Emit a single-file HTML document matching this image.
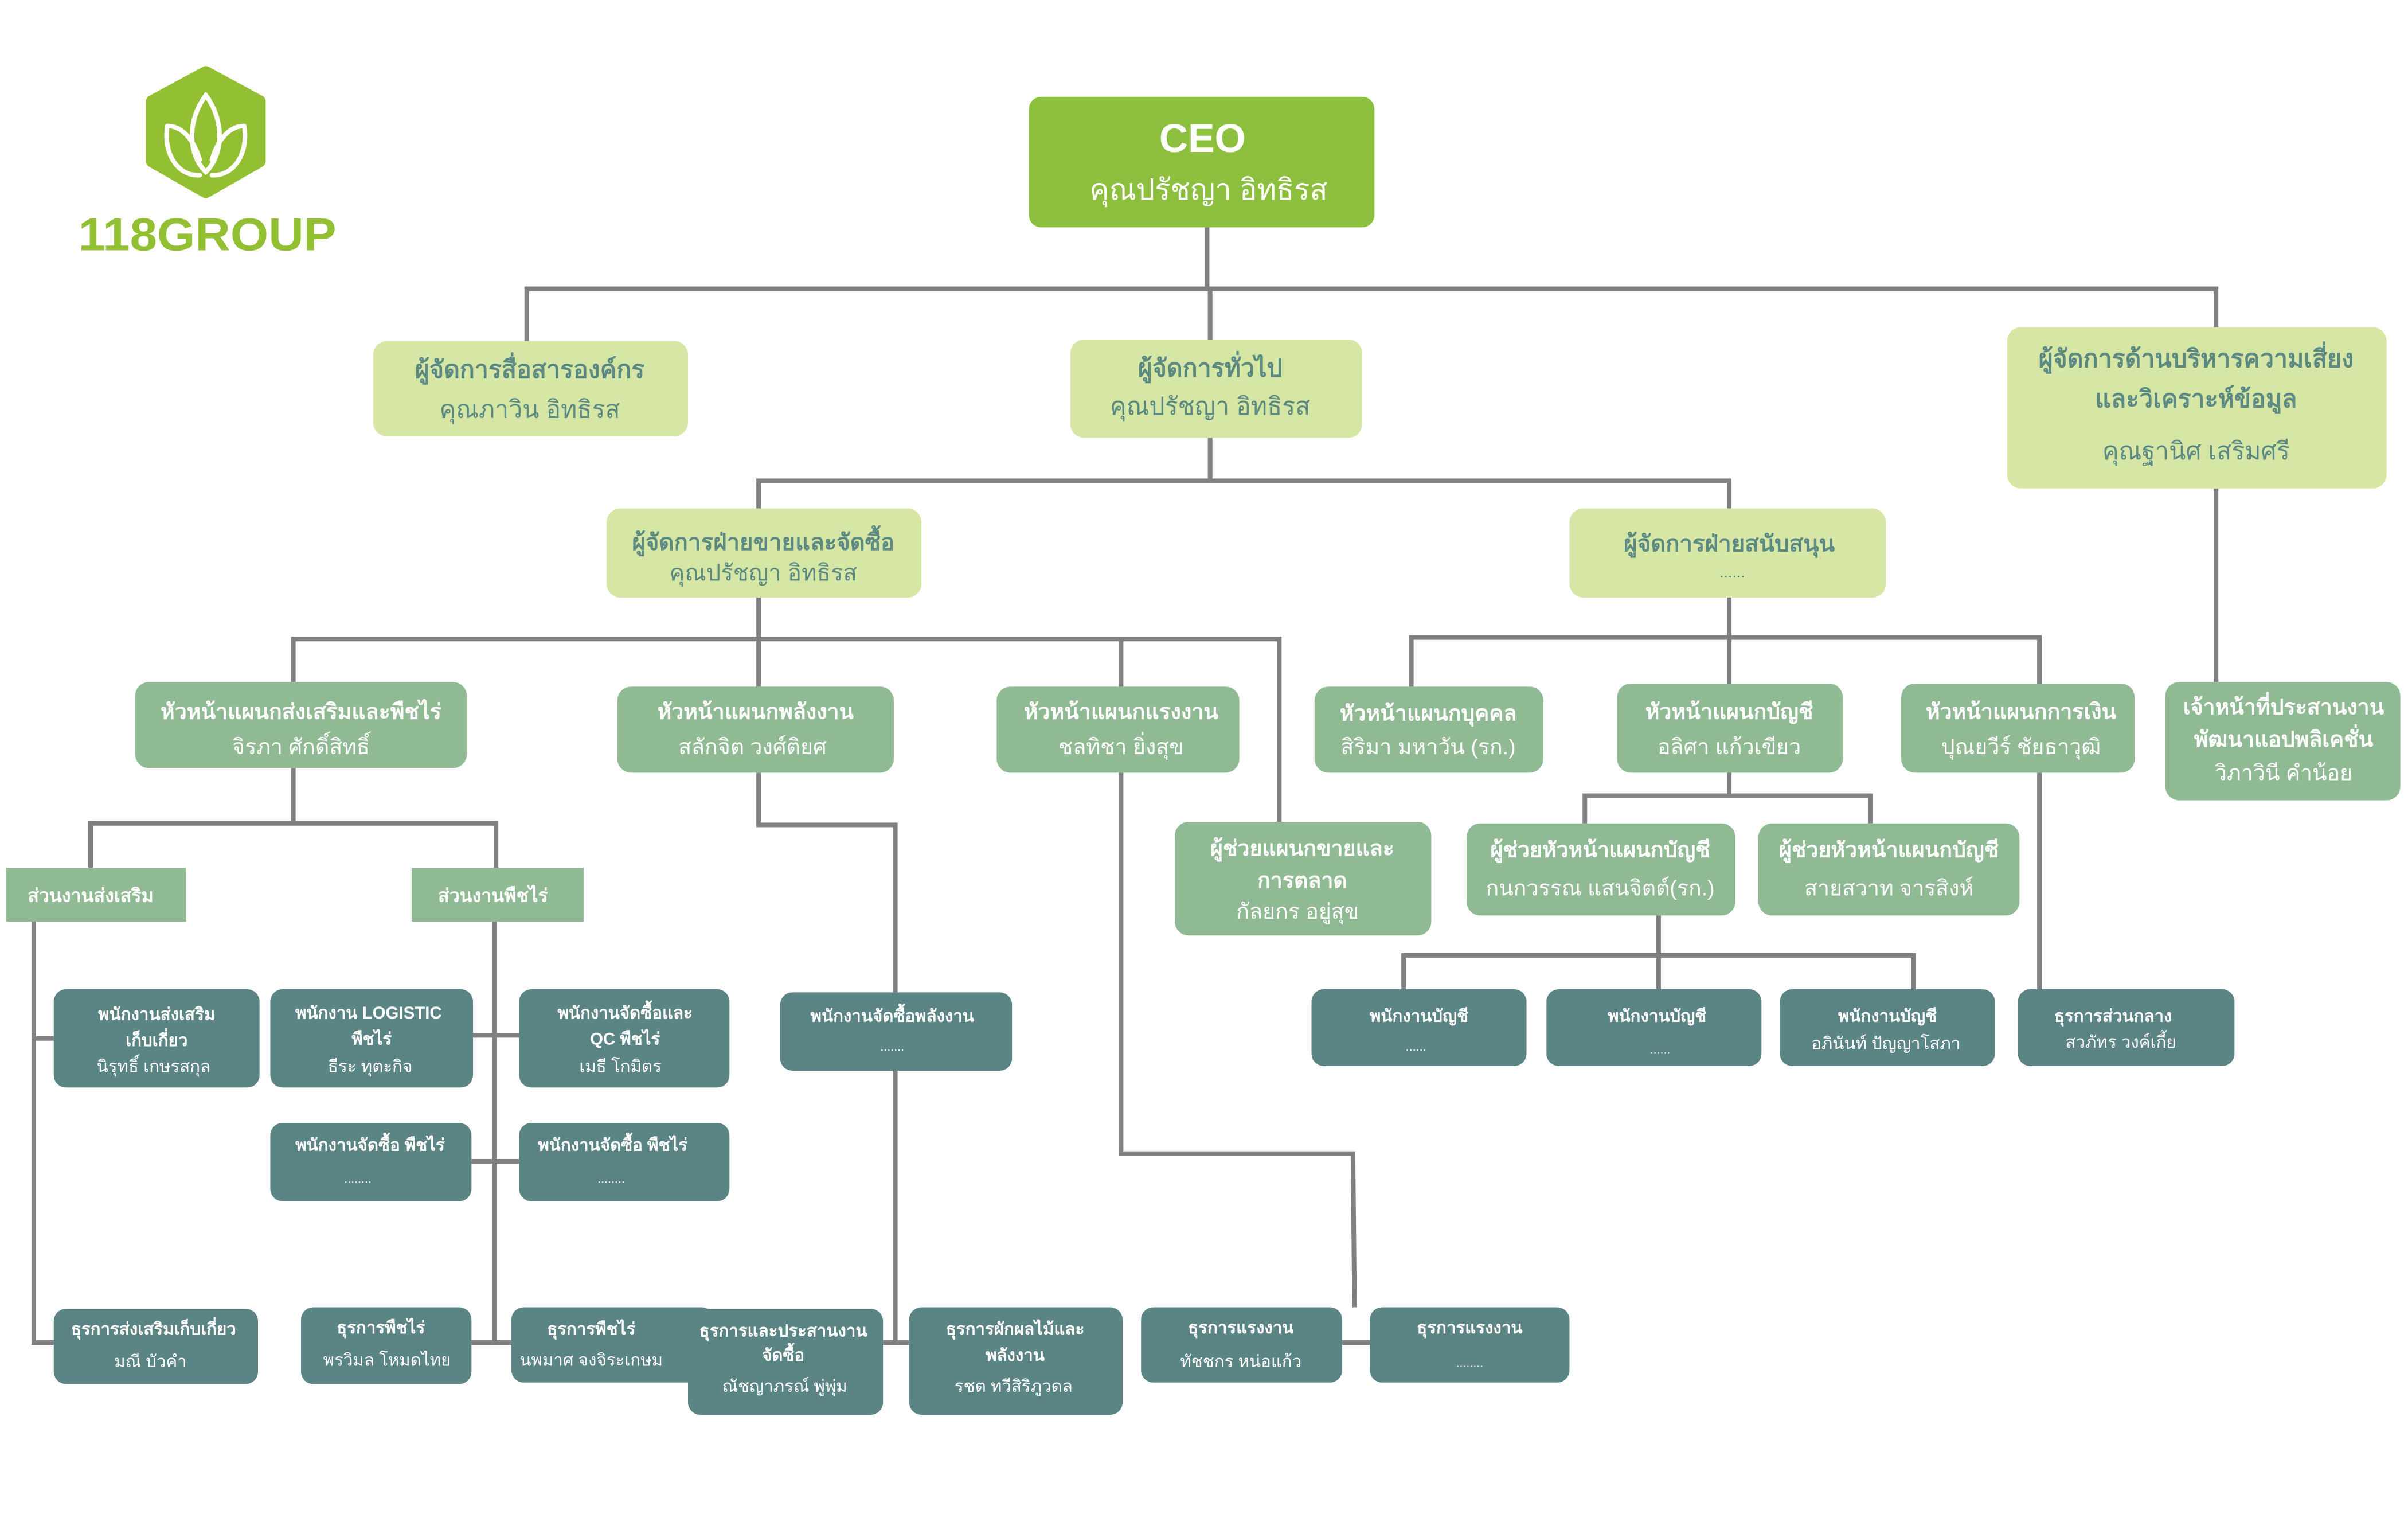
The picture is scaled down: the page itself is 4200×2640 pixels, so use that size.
<!DOCTYPE html>
<html><head><meta charset="utf-8"><style>
html,body{margin:0;padding:0;background:#fff;}
svg{display:block;}
text{font-family:"Liberation Sans","DejaVu Sans","Noto Sans CJK SC",sans-serif;text-anchor:middle;}
.b{font-weight:bold;}
</style></head><body>
<svg width="4200" height="2640" viewBox="0 0 1568 985.6" xmlns="http://www.w3.org/2000/svg">
<rect width="1568" height="986" fill="#fff"/>
<g stroke="#808083" stroke-width="3" fill="none">
<path d="M786 148V188M343 222V188H1443V213M788 188V221"/>
<path d="M1443 318V444"/>
<path d="M788 285V313M494 331V313H1126V331"/>
<path d="M494 389V416M191 444V416H833V535M494 416V447M730 416V447"/>
<path d="M1126 389V415M919 447V415H1328V445M1126 415V445"/>
<path d="M1328 503V645"/>
<path d="M191 500V536M59 565V536H323V565"/>
<path d="M22 600V874H35M22 676H35"/>
<path d="M322 600V874M308 674H338M307 756H338M307 874H333"/>
<path d="M494 503V537H583V646M583 697V874M575 874H592"/>
<path d="M730 503V751H881L882 851M874 874H892"/>
<path d="M1126 503V518M1032 536V518H1218V536"/>
<path d="M1080 596V622M914 644V622H1246V644M1080 622V644"/>
</g>
<!-- logo -->
<path d="M134 47L169 66V105L134 125L99 105V66Z" fill="#93c032" stroke="#93c032" stroke-width="8" stroke-linejoin="round"/>
<g stroke="#fff" stroke-width="3" fill="none" stroke-linecap="round">
<path d="M134 62C122 78 122 100 134 112C146 100 146 78 134 62Z"/>
<path d="M109 82C106 100 116 115 130 114M159 82C162 100 152 115 138 114"/>
<path d="M109 82C118 82 126 90 130 104M159 82C150 82 142 90 138 104"/>
</g>
<text x="135" y="163" font-size="30" class="b" fill="#93c032" textLength="168" lengthAdjust="spacingAndGlyphs">118GROUP</text>

<!-- CEO -->
<rect x="670" y="63" width="225" height="85" rx="8" fill="#8dbf3e"/>
<text x="783" y="99" font-size="26" class="b" fill="#fff">CEO</text>
<text x="787" y="130" font-size="19" fill="#fff">คุณปรัชญา อิทธิรส</text>

<g fill="#d6e6a4">
<rect x="243" y="222" width="205" height="62" rx="9"/>
<rect x="697" y="221" width="190" height="64" rx="9"/>
<rect x="1307" y="213" width="247" height="105" rx="9"/>
<rect x="395" y="331" width="205" height="58" rx="9"/>
<rect x="1022" y="331" width="206" height="58" rx="9"/>
</g>
<g fill="#5c8a82">
<text x="345" y="246" font-size="16" class="b">ผู้จัดการสื่อสารองค์กร</text>
<text x="345" y="272" font-size="16">คุณภาวิน อิทธิรส</text>
<text x="788" y="245" font-size="16" class="b">ผู้จัดการทั่วไป</text>
<text x="788" y="270" font-size="16">คุณปรัชญา อิทธิรส</text>
<text x="1430" y="239" font-size="16" class="b">ผู้จัดการด้านบริหารความเสี่ยง</text>
<text x="1430" y="265" font-size="16" class="b">และวิเคราะห์ข้อมูล</text>
<text x="1430" y="299" font-size="16">คุณฐานิศ เสริมศรี</text>
<text x="497" y="358" font-size="15" class="b">ผู้จัดการฝ่ายขายและจัดซื้อ</text>
<text x="497" y="378" font-size="15">คุณปรัชญา อิทธิรส</text>
<text x="1126" y="359" font-size="15" class="b">ผู้จัดการฝ่ายสนับสนุน</text>
<text x="1128" y="376" font-size="10">......</text>
</g>

<g fill="#8fba94">
<rect x="88" y="444" width="216" height="56" rx="9"/>
<rect x="402" y="447" width="180" height="56" rx="9"/>
<rect x="649" y="447" width="158" height="56" rx="9"/>
<rect x="856" y="447" width="149" height="56" rx="9"/>
<rect x="1053" y="445" width="147" height="58" rx="9"/>
<rect x="1238" y="445" width="152" height="58" rx="9"/>
<rect x="1410" y="444" width="153" height="77" rx="9"/>
<rect x="765" y="535" width="167" height="74" rx="9"/>
<rect x="955" y="536" width="175" height="60" rx="9"/>
<rect x="1145" y="536" width="170" height="60" rx="9"/>
<rect x="4" y="565" width="117" height="35"/>
<rect x="268" y="565" width="112" height="35"/>
</g>
<g fill="#fff">
<text x="196" y="468" font-size="14" class="b">หัวหน้าแผนกส่งเสริมและพืชไร่</text>
<text x="196" y="491" font-size="14">จิรภา ศักดิ์สิทธิ์</text>
<text x="492" y="468" font-size="14" class="b">หัวหน้าแผนกพลังงาน</text>
<text x="490" y="491" font-size="14">สลักจิต วงศ์ติยศ</text>
<text x="730" y="468" font-size="14" class="b">หัวหน้าแผนกแรงงาน</text>
<text x="730" y="491" font-size="14">ชลทิชา ยิ่งสุข</text>
<text x="930" y="469" font-size="14" class="b">หัวหน้าแผนกบุคคล</text>
<text x="930" y="491" font-size="14">สิริมา มหาวัน (รก.)</text>
<text x="1126" y="468" font-size="14" class="b">หัวหน้าแผนกบัญชี</text>
<text x="1126" y="491" font-size="14">อลิศา  แก้วเขียว</text>
<text x="1316" y="468" font-size="14" class="b">หัวหน้าแผนกการเงิน</text>
<text x="1316" y="491" font-size="14">ปุณยวีร์ ชัยธาวุฒิ</text>
<text x="1487" y="465" font-size="14" class="b">เจ้าหน้าที่ประสานงาน</text>
<text x="1487" y="486" font-size="14" class="b">พัฒนาแอปพลิเคชั่น</text>
<text x="1487" y="508" font-size="14">วิภาวินี  คำน้อย</text>
<text x="848" y="557" font-size="14" class="b">ผู้ช่วยแผนกขายและ</text>
<text x="848" y="578" font-size="14" class="b">การตลาด</text>
<text x="845" y="598" font-size="14">กัลยกร  อยู่สุข</text>
<text x="1042" y="558" font-size="14" class="b">ผู้ช่วยหัวหน้าแผนกบัญชี</text>
<text x="1042" y="583" font-size="14">กนกวรรณ  แสนจิตต์(รก.)</text>
<text x="1230" y="558" font-size="14" class="b">ผู้ช่วยหัวหน้าแผนกบัญชี</text>
<text x="1230" y="583" font-size="14">สายสวาท  จารสิงห์</text>
<text x="59" y="587" font-size="12" class="b">ส่วนงานส่งเสริม</text>
<text x="321" y="587" font-size="12" class="b">ส่วนงานพืชไร่</text>
</g>

<g fill="#5b8585">
<rect x="35" y="644" width="134" height="64" rx="8"/>
<rect x="176" y="644" width="132" height="64" rx="8"/>
<rect x="338" y="644" width="137" height="64" rx="8"/>
<rect x="176" y="731" width="131" height="51" rx="8"/>
<rect x="338" y="731" width="137" height="51" rx="8"/>
<rect x="508" y="646" width="151" height="51" rx="8"/>
<rect x="854" y="644" width="140" height="50" rx="8"/>
<rect x="1007" y="644" width="140" height="50" rx="8"/>
<rect x="1159" y="644" width="140" height="50" rx="8"/>
<rect x="1314" y="644" width="141" height="50" rx="8"/>
<rect x="35" y="852" width="133" height="49" rx="8"/>
<rect x="196" y="851" width="111" height="50" rx="8"/>
<rect x="333" y="851" width="132" height="49" rx="8"/>
<rect x="448" y="852" width="127" height="69" rx="8"/>
<rect x="592" y="851" width="139" height="70" rx="8"/>
<rect x="743" y="851" width="131" height="49" rx="8"/>
<rect x="892" y="851" width="130" height="49" rx="8"/>
</g>
<g fill="#fff">
<text x="102" y="664" font-size="11" class="b">พนักงานส่งเสริม</text>
<text x="102" y="681" font-size="11" class="b">เก็บเกี่ยว</text>
<text x="100" y="698" font-size="11">นิรุทธิ์ เกษรสกุล</text>
<text x="240" y="663" font-size="11" class="b">พนักงาน LOGISTIC</text>
<text x="242" y="680" font-size="11" class="b">พืชไร่</text>
<text x="241" y="698" font-size="11">ธีระ ทุตะกิจ</text>
<text x="407" y="663" font-size="11" class="b">พนักงานจัดซื้อและ</text>
<text x="407" y="680" font-size="11" class="b">QC พืชไร่</text>
<text x="404" y="698" font-size="11">เมธี โกมิตร</text>
<text x="241" y="749" font-size="11" class="b">พนักงานจัดซื้อ พืชไร่</text>
<text x="233" y="770" font-size="8">........</text>
<text x="399" y="749" font-size="11" class="b">พนักงานจัดซื้อ พืชไร่</text>
<text x="398" y="770" font-size="8">........</text>
<text x="581" y="665" font-size="11" class="b">พนักงานจัดซื้อพลังงาน</text>
<text x="581" y="684" font-size="8">.......</text>
<text x="924" y="665" font-size="11" class="b">พนักงานบัญชี</text>
<text x="922" y="684" font-size="8">......</text>
<text x="1079" y="665" font-size="11" class="b">พนักงานบัญชี</text>
<text x="1081" y="686" font-size="8">......</text>
<text x="1229" y="665" font-size="11" class="b">พนักงานบัญชี</text>
<text x="1228" y="683" font-size="11">อภินันท์  ปัญญาโสภา</text>
<text x="1376" y="665" font-size="11" class="b">ธุรการส่วนกลาง</text>
<text x="1381" y="682" font-size="11">สวภัทร  วงค์เกี้ย</text>
<text x="100" y="869" font-size="11" class="b">ธุรการส่งเสริมเก็บเกี่ยว</text>
<text x="98" y="890" font-size="11">มณี  บัวคำ</text>
<text x="248" y="868" font-size="11" class="b">ธุรการพืชไร่</text>
<text x="252" y="889" font-size="11">พรวิมล  โหมดไทย</text>
<text x="385" y="869" font-size="11" class="b">ธุรการพืชไร่</text>
<text x="385" y="889" font-size="11">นพมาศ จงจิระเกษม</text>
<text x="510" y="870" font-size="11" class="b">ธุรการและประสานงาน</text>
<text x="510" y="886" font-size="11" class="b">จัดซื้อ</text>
<text x="511" y="906" font-size="11">ณัชญาภรณ์ พู่พุ่ม</text>
<text x="661" y="869" font-size="11" class="b">ธุรการผักผลไม้และ</text>
<text x="661" y="886" font-size="11" class="b">พลังงาน</text>
<text x="660" y="906" font-size="11">รชต  ทวีสิริภูวดล</text>
<text x="808" y="868" font-size="11" class="b">ธุรการแรงงาน</text>
<text x="808" y="890" font-size="11">ทัชชกร หน่อแก้ว</text>
<text x="957" y="868" font-size="11" class="b">ธุรการแรงงาน</text>
<text x="957" y="890" font-size="8">........</text>
</g>
</svg>
</body></html>
